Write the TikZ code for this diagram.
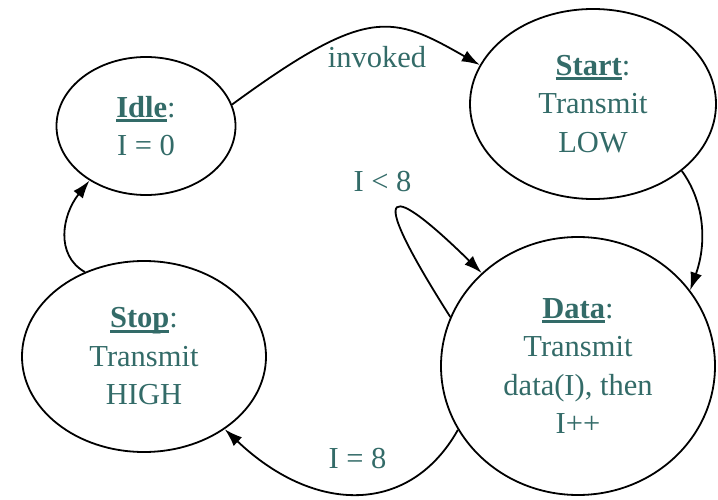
\documentclass[tikz,border=0pt]{standalone}
\usepackage{fontspec}
\setmainfont{Liberation Serif}
\usetikzlibrary{shapes.geometric,arrows.meta}
\definecolor{tealc}{RGB}{51,107,104}
\newcommand\myub[1]{\setbox0=\hbox{\bfseries #1}\rlap{\rule[-5pt]{\wd0}{3pt}}\box0}
\newcommand\statefont{\fontsize{30.5}{38.5}\selectfont}
\tikzset{
  state/.style={draw, ellipse, line width=1.8pt, inner sep=0pt, text=tealc, align=center, font=\statefont},
  conn/.style={line width=1.8pt, -{Latex[length=18pt,width=12pt]}},
  lbl/.style={text=tealc, font=\statefont, anchor=base, inner sep=0pt}
}
\begin{document}
\begin{tikzpicture}[x=1pt,y=-1pt]
\useasboundingbox (0,0) rectangle (718,500);
\node[state, minimum width=179pt, minimum height=138pt] (idle) at (146,126) {\myub{Idle}:\\I = 0};
\node[state, minimum width=246pt, minimum height=190pt] (start) at (593,104) {\myub{Start}:\\Transmit\\LOW};
\node[state, minimum width=274pt, minimum height=258pt] (data) at (578,366) {\myub{Data}:\\Transmit\\data(I), then\\I++};
\node[state, minimum width=244pt, minimum height=191pt] (stop) at (144,356.5) {\myub{Stop}:\\Transmit\\HIGH};

\draw[conn] (idle.14) .. controls (368,5) and (392,15) .. (start.161);
\draw[conn] (start.-37) .. controls (703,200) and (708,240) .. (data.34);
\draw[conn] (data.159) .. controls (360,175) and (392,185) .. (data.136);
\draw[conn] (data.-152) .. controls (410,515) and (315,515) .. (stop.-42);
\draw[conn] (stop.125) .. controls (55,255) and (62,215) .. (idle.-136);

\node[lbl] (linv) at (377,68) {invoked};
\node[lbl] (llt) at (382.5,192) {I < 8};
\node[lbl] (leq) at (357.5,468) {I = 8};
\end{tikzpicture}
\end{document}
